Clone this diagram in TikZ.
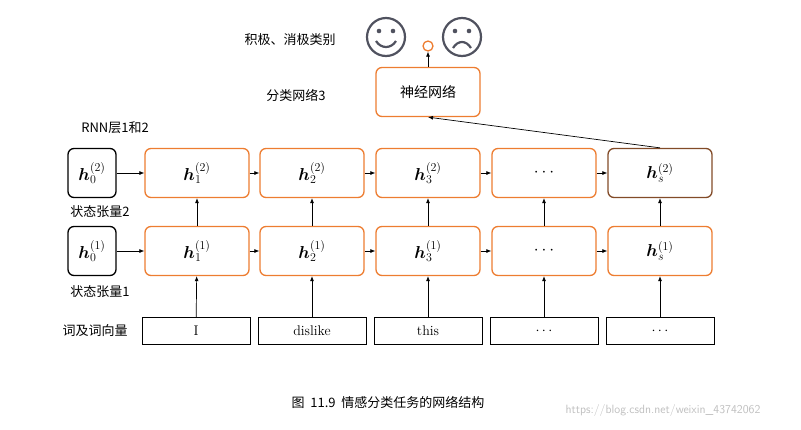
\documentclass[tikz,border=0pt]{standalone}
\usepackage{bm}
\usepackage{fontspec}
\newfontfamily\cjk{Noto Sans CJK SC}
\usetikzlibrary{arrows.meta}
\definecolor{org}{RGB}{237,125,49}
\definecolor{brn}{RGB}{130,75,40}
\definecolor{face}{RGB}{80,82,95}
\begin{document}
\begin{tikzpicture}[x=1pt,y=-1pt,
  cell/.style={draw=org,line width=1.3pt,rounded corners=6pt,minimum width=104pt,minimum height=49pt,font=\LARGE},
  init/.style={draw=black,line width=1.3pt,rounded corners=6pt,minimum width=48pt,minimum height=49pt,font=\LARGE},
  word/.style={draw=black,line width=0.9pt,minimum width=108pt,minimum height=27pt,font=\fontsize{14}{16}\selectfont},
  lab/.style={font=\cjk\fontsize{13}{15}\selectfont},
  arr/.style={-{Latex[length=5pt,width=4pt]},line width=0.7pt}]
\useasboundingbox (0,0) rectangle (801,429);
\node[init] (a0) at (92,173) {$\bm{h}_0^{(2)}$};
\node[init] (b0) at (92,251) {$\bm{h}_0^{(1)}$};
\node[cell] (a1) at (197,173) {$\bm{h}_1^{(2)}$};
\node[cell] (a2) at (312,173) {$\bm{h}_2^{(2)}$};
\node[cell] (a3) at (428,173) {$\bm{h}_3^{(2)}$};
\node[cell] (a4) at (544,173) {$\cdots$};
\node[cell,draw=brn] (a5) at (660,173) {$\bm{h}_s^{(2)}$};
\node[cell] (b1) at (197,251) {$\bm{h}_1^{(1)}$};
\node[cell] (b2) at (312,251) {$\bm{h}_2^{(1)}$};
\node[cell] (b3) at (428,251) {$\bm{h}_3^{(1)}$};
\node[cell] (b4) at (544,251) {$\cdots$};
\node[cell] (b5) at (660,251) {$\bm{h}_s^{(1)}$};
\node[word] (w1) at (196,331) {I};
\node[word] (w2) at (312,331) {dislike};
\node[word] (w3) at (428,331) {this};
\node[word] (w4) at (544,331) {$\cdots$};
\node[word] (w5) at (660,331) {$\cdots$};
\node[cell,font=\cjk\fontsize{14}{16}\selectfont] (nn) at (428,92) {神经网络};
\node[circle,draw=org,line width=1.3pt,minimum size=10pt,inner sep=0pt] (o) at (428,46) {};
\draw[arr] (nn) -- (o);
\draw[arr] (a5.north) -- (nn.south);
\draw[arr] (a0) -- (a1); \draw[arr] (b0) -- (b1);
\foreach \i/\j in {1/2,2/3,3/4,4/5}{
  \draw[arr] (a\i) -- (a\j); \draw[arr] (b\i) -- (b\j);}
\foreach \i in {1,...,5}{
  \draw[arr] (w\i) -- (b\i); \draw[arr] (b\i) -- (a\i);}
\begin{scope}[face,line width=2.2pt]
\node[circle,draw=face,line width=2.2pt,minimum size=38pt] (f1) at (386,37) {};
\fill[face] (379,31) circle (2.3pt) (393,31) circle (2.3pt);
\draw (376,41) .. controls (381,49) and (391,49) .. (396,41);
\node[circle,draw=face,line width=2.2pt,minimum size=38pt] (f2) at (462,37) {};
\fill[face] (455,31) circle (2.3pt) (469,31) circle (2.3pt);
\draw (453,48) .. controls (458,40) and (466,40) .. (471,48);
\end{scope}
\node[lab] (l1) at (290,40) {积极、消极类别};
\node[lab] (l2) at (296,95) {分类网络3};
\node[lab] (l3) at (115,128) {RNN层1和2};
\node[lab] (l4) at (100,212) {状态张量2};
\node[lab] (l5) at (100,292) {状态张量1};
\node[lab] (l6) at (95,331) {词及词向量};
\node[lab] (cap) at (388,402) {图\ \ 11.9\ \ 情感分类任务的网络结构};
\node[font=\sffamily\fontsize{12}{14}\selectfont,text=black!25] (wm) at (663,410) {https://blog.csdn.net/weixin\_43742062};
\end{tikzpicture}
\end{document}
